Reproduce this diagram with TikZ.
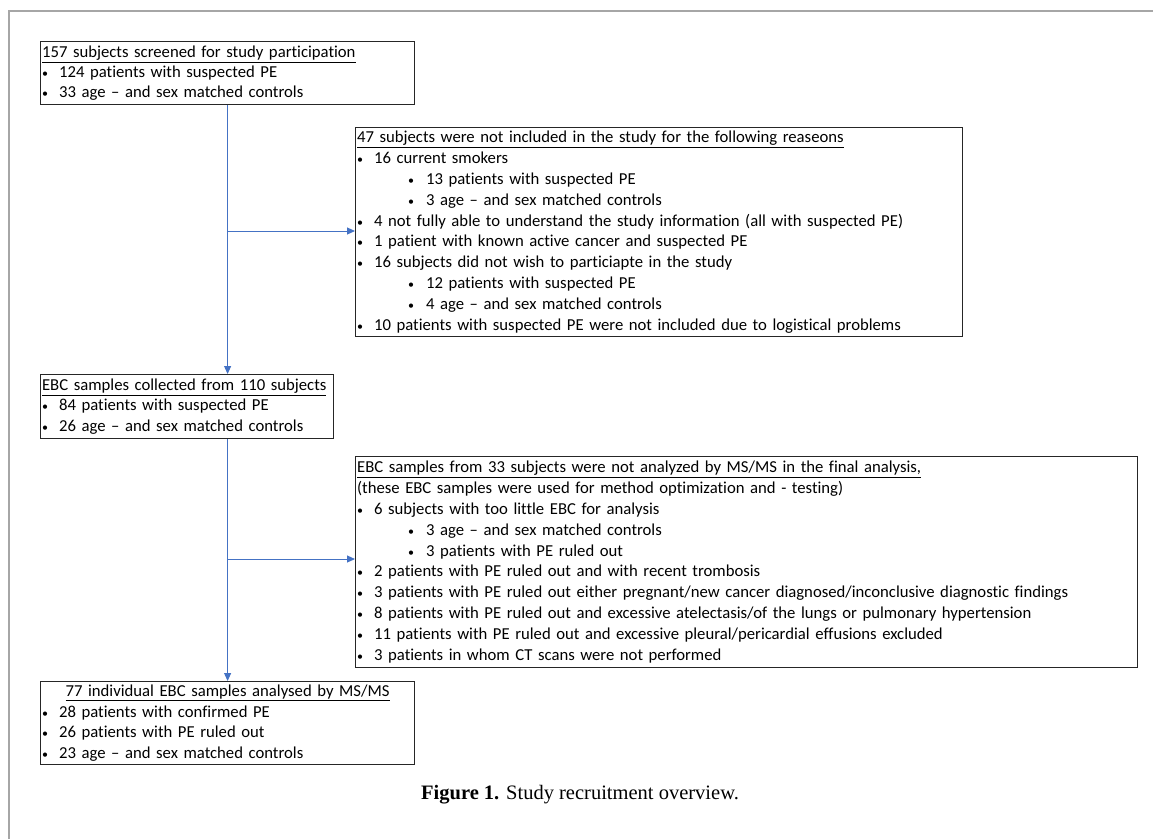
\documentclass[tikz,border=0pt]{standalone}
\usepackage{fontspec}
\setmainfont{Carlito}[Ligatures=NoCommon]
\newfontfamily\capfont{Liberation Serif}
\usetikzlibrary{arrows.meta,positioning}
\definecolor{flowblue}{HTML}{4472C4}
\definecolor{framegray}{HTML}{A6A6A6}
\newcommand{\dotmark}{{\fontsize{12}{12}\selectfont\textbullet}}
\newcommand{\itm}[1]{\makebox[17pt][l]{\dotmark}#1}
\newcommand{\subitm}[1]{\hspace{51pt}\makebox[18pt][l]{\dotmark}#1}

\begin{document}
\begin{tikzpicture}[x=1pt, y=-1pt,
  box/.style={draw=black!85, line width=1.2pt, anchor=north west, inner xsep=1.5pt, inner ysep=0.5pt,
    align=left, font=\fontsize{16.7}{20.8}\selectfont},
  flow/.style={draw=flowblue, line width=1pt, -{Triangle[length=8pt,width=7pt]}}]
\useasboundingbox (0,0) rectangle (1153,839);
\draw[framegray, line width=2pt] (9,839) -- (9,11) -- (1153,11);
% Recruitment flow
\node[box, text width=371pt, minimum height=63pt, font=\fontsize{16.7}{20}\selectfont] (screened) at (40,41)
  {\underline{157 subjects screened for study participation}\\
   \itm{124 patients with suspected PE}\\
   \itm{33 age -- and sex matched controls}};
\node[box, text width=604pt, minimum height=209pt] (excluded) at (355,127)
  {\underline{47 subjects were not included in the study for the following reaseons}\\
   \itm{16 current smokers}\\
   \subitm{13 patients with suspected PE}\\
   \subitm{3 age -- and sex matched controls}\\
   \itm{4 not fully able to understand the study information (all with suspected PE)}\\
   \itm{1 patient with known active cancer and suspected PE}\\
   \itm{16 subjects did not wish to particiapte in the study}\\
   \subitm{12 patients with suspected PE}\\
   \subitm{4 age -- and sex matched controls}\\
   \itm{10 patients with suspected PE were not included due to logistical problems}};
\node[box, text width=290pt, minimum height=64pt, font=\fontsize{16.7}{20.5}\selectfont] (collected) at (40,374)
  {\underline{EBC samples collected from 110 subjects}\\
   \itm{84 patients with suspected PE}\\
   \itm{26 age -- and sex matched controls}};
\node[box, text width=779pt, minimum height=211pt] (notanalysed) at (355,456)
  {\underline{EBC samples from 33 subjects were not analyzed by MS/MS in the final analysis,}\\
   (these EBC samples were used for method optimization and - testing)\\
   \itm{6 subjects with too little EBC for analysis}\\
   \subitm{3 age -- and sex matched controls}\\
   \subitm{3 patients with PE ruled out}\\
   \itm{2 patients with PE ruled out and with recent trombosis}\\
   \itm{3 patients with PE ruled out either pregnant/new cancer diagnosed/inconclusive diagnostic findings}\\
   \itm{8 patients with PE ruled out and excessive atelectasis/of the lungs or pulmonary hypertension}\\
   \itm{11 patients with PE ruled out and excessive pleural/pericardial effusions excluded}\\
   \itm{3 patients in whom CT scans were not performed}};
\node[box, text width=371pt, minimum height=83pt] (analysed) at (40,681)
  {\makebox[371pt][c]{\underline{77 individual EBC samples analysed by MS/MS}}\\
   \itm{28 patients with confirmed PE}\\
   \itm{26 patients with PE ruled out}\\
   \itm{23 age -- and sex matched controls}};
\node[font=\capfont\fontsize{20.5}{24}\selectfont] (caption) at (580,795)
  {\textbf{Figure 1.} Study recruitment overview.};
% Arrows
\coordinate (split1) at (227,231);
\coordinate (split2) at (227,559);
\draw[flow] (screened.south) -- (screened.south |- collected.north);
\draw[flow] (split1) -- (split1 -| excluded.west);
\draw[flow] (screened.south |- collected.south) -- (analysed.north);
\draw[flow] (split2) -- (split2 -| notanalysed.west);
\end{tikzpicture}
\end{document}
